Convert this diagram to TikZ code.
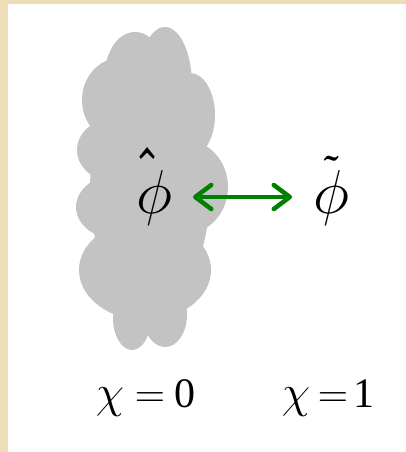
\RequirePackage{fix-cm}
\documentclass[tikz,border=0pt]{standalone}
\usepackage[no-math]{fontspec}
\setmainfont{Liberation Serif}
\usetikzlibrary{arrows.meta}
\definecolor{parch}{RGB}{238,222,184}
\definecolor{cloudgray}{RGB}{195,195,195}
\definecolor{arrowgreen}{RGB}{0,128,0}
\newcommand{\myhat}{\rlap{\hspace*{-3pt}\raisebox{14pt}{\scalebox{1}[1.5]{\fontsize{50}{50}\selectfont\boldmath$\mathchar"705E$}}}}
\newcommand{\mytilde}{\rlap{\hspace*{7.5pt}\raisebox{23.6pt}{\scalebox{1}[1.2]{\fontsize{40}{40}\selectfont\boldmath$\mathchar"707E$}}}}
\tikzset{
  lobe/.style={fill=cloudgray},
  bigsym/.style={inner sep=0pt, anchor=base, font=\fontsize{62}{62}\selectfont},
  chisym/.style={inner sep=0pt, anchor=base, font=\fontsize{46}{46}\selectfont},
  eqsym/.style={inner sep=0pt, anchor=base, font=\fontsize{42}{42}\selectfont},
  garrow/.style={draw=arrowgreen, line width=4.5pt, line cap=round,
    {Straight Barb[length=16pt, width=24pt, line cap=round, line join=round]}-{Straight Barb[length=16pt, width=24pt, line cap=round, line join=round]}}
}
\begin{document}
\begin{tikzpicture}[x=1pt,y=-1pt]
\fill[parch] (0,0) rectangle (406,452);
\fill[white] (8,4) rectangle (406,452);
\useasboundingbox (0,0) rectangle (406,452);
% cloud
\fill[lobe] (150,190) ellipse [x radius=60pt, y radius=120pt];
\fill[lobe] (135,75) ellipse [x radius=30pt, y radius=43pt];
\fill[lobe] (165,85) ellipse [x radius=27pt, y radius=58pt];
\fill[lobe] (190,115) ellipse [x radius=25pt, y radius=42pt];
\fill[lobe] (120,100) ellipse [x radius=38pt, y radius=42pt];
\fill[lobe] (115,150) ellipse [x radius=38pt, y radius=32pt];
\fill[lobe] (185,187) ellipse [x radius=43pt, y radius=47pt];
\fill[lobe] (120,207) ellipse [x radius=44pt, y radius=33pt];
\fill[lobe] (145,270) ellipse [x radius=66pt, y radius=50pt];
\fill[lobe] (132,318) ellipse [x radius=19pt, y radius=32pt];
\fill[lobe] (165,315) ellipse [x radius=22pt, y radius=32pt];
% symbols
\node[bigsym] (phihat) at (154,213) {\myhat$\phi$};
\node[bigsym] (phitilde) at (331,213) {\mytilde$\phi$};
\coordinate (aL) at (193,197);
\coordinate (aR) at (292,197);
\draw[garrow] (aL) -- (aR);
% chi labels
\node[chisym] (chiA) at (110,407) {$\chi$};
\node[eqsym] (eqA) at (150,407) {$=$};
\node[eqsym] (zero) at (185,407) {0};
\node[chisym] (chiB) at (296,407) {$\chi$};
\node[eqsym] (eqB) at (333,407) {$=$};
\node[eqsym] (one) at (364,407) {1};
\end{tikzpicture}
\end{document}
